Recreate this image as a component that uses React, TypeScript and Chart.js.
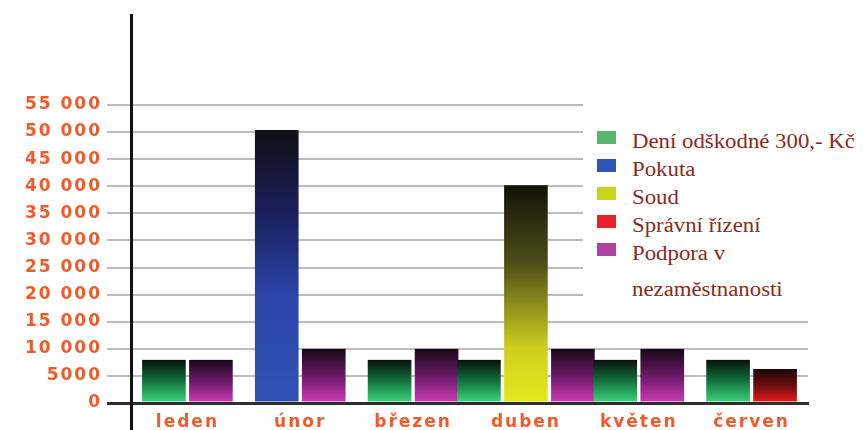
import React, { useEffect, useRef } from 'react';
import { Chart, registerables } from 'chart.js';

Chart.register(...registerables);

// ---- data ----
const months = ['leden', 'únor', 'březen', 'duben', 'květen', 'červen'];
const seriesNames = [
  'Dení odškodné 300,- Kč',
  'Pokuta',
  'Soud',
  'Správní řízení',
  'Podpora v nezaměstnanosti',
];
const denniOdskodne = [8000, null, 8000, 8000, 8000, 8000];
const pokuta = [null, 50400, null, null, null, null];
const soud = [null, null, null, 40200, null, null];
const spravniRizeni = [null, null, null, null, null, 6300];
const podpora = [8000, 10000, 10000, 10000, 10000, null];
const yTickValues = [0, 5000, 10000, 15000, 20000, 25000, 30000, 35000, 40000, 45000, 50000, 55000];
const yTickLabels = ['0', '5000', '10 000', '15 000', '20 000', '25 000', '30 000', '35 000', '40 000', '45 000', '50 000', '55 000'];

// ---- styles ----
const swatchColors = ['#55b56b', '#2f54b8', '#c9d51a', '#e4242a', '#b0419f'];
const gradientStops: [number, string][][] = [
  [[0, '#0b0f0c'], [0.45, '#0f6a38'], [1, '#3fd77e']],
  [[0, '#0e0e14'], [0.3, '#1a1f5c'], [0.6, '#2a44a6'], [1, '#3252b5']],
  [[0, '#121208'], [0.35, '#4c4c18'], [0.75, '#cfd020'], [1, '#e6e81c']],
  [[0, '#1a0606'], [0.5, '#6e0f10'], [1, '#f01b1b']],
  [[0, '#160816'], [0.5, '#6a1a68'], [1, '#d03cb8']],
];
const orange = '#ef5b2b';
const tickFont = { family: "'DejaVu Sans', sans-serif", size: 17, weight: 'bold' as const };

const makeGradient = (stops: [number, string][]) => (ctx: any) => {
  const chart = ctx.chart;
  const y = chart.scales && chart.scales.y;
  if (!y || ctx.raw == null) return stops[stops.length - 1][1];
  const top = y.getPixelForValue(ctx.raw as number);
  const bottom = y.getPixelForValue(0);
  if (!isFinite(top) || !isFinite(bottom) || top === bottom) return stops[stops.length - 1][1];
  const g = chart.ctx.createLinearGradient(0, top, 0, bottom);
  stops.forEach(([o, c]) => g.addColorStop(o, c));
  return g;
};

const letterSpacingPlugin = {
  id: 'letterSpacing',
  beforeDraw(chart: any) {
    (chart.ctx as any).letterSpacing = '2px';
  },
  afterDraw(chart: any) {
    (chart.ctx as any).letterSpacing = '0px';
  },
};

export default function App() {
  const canvasRef = useRef<HTMLCanvasElement | null>(null);

  useEffect(() => {
    if (!canvasRef.current) return;
    const seriesData = [denniOdskodne, pokuta, soud, spravniRizeni, podpora];
    const chart = new Chart(canvasRef.current, {
      type: 'bar',
      data: {
        labels: months,
        datasets: seriesNames.map((name, i) => ({
          label: name,
          data: seriesData[i] as any,
          backgroundColor: makeGradient(gradientStops[i]) as any,
          borderColor: 'rgba(0,0,0,0)',
          borderWidth: { left: 2, right: 2, top: 0, bottom: 0 } as any,
          borderSkipped: false as any,
          barThickness: 47,
          skipNull: true,
        })),
      },
      options: {
        responsive: false,
        animation: false,
        layout: { padding: { top: 15, bottom: 2, left: 0, right: 55 } },
        plugins: {
          legend: { display: false },
          tooltip: { enabled: false },
        },
        scales: {
          x: {
            type: 'category',
            position: { y: 0 } as any,
            offset: true,
            grid: { display: false, drawTicks: false },
            border: { display: true, color: '#2e2e2e', width: 3 },
            ticks: { color: orange, font: tickFont, padding: 9, maxRotation: 0 },
          },
          y: {
            type: 'linear',
            min: -4600,
            max: 71600,
            afterBuildTicks: (scale: any) => {
              scale.ticks = yTickValues.map((v) => ({ value: v }));
            },
            afterFit: (scale: any) => {
              scale.width = 131;
              scale.paddingTop = 0;
              scale.paddingBottom = 0;
            },
            grid: {
              color: (c: any) => (c.tick && c.tick.value === 0 ? '#2e2e2e' : '#bdbdbd'),
              lineWidth: (c: any) => (c.tick && c.tick.value === 0 ? 3 : 2),
              drawTicks: true,
              tickLength: 24,
            },
            border: { display: true, color: '#111111', width: 3 },
            ticks: {
              color: orange,
              font: tickFont,
              padding: 5,
              callback: (value: any) => {
                const idx = yTickValues.indexOf(Number(value));
                return idx >= 0 ? yTickLabels[idx] : '';
              },
            },
          },
        },
      },
      plugins: [letterSpacingPlugin],
    });
    return () => chart.destroy();
  }, []);

  return (
    <div style={{ position: 'fixed', left: 0, top: 0, width: 863, height: 430, background: '#fff', overflow: 'hidden' }}>
      <canvas ref={canvasRef} width={863} height={430} style={{ position: 'absolute', left: 0, top: 0, width: 863, height: 430 }} />
      <div
        style={{
          position: 'absolute',
          left: 583,
          top: 96,
          width: 280,
          height: 216,
          background: '#fff',
          overflow: 'hidden',
          paddingTop: 27,
          boxSizing: 'border-box',
        }}
      >
        {seriesNames.map((name, i) => (
          <div key={name} style={{ display: 'flex', alignItems: 'flex-start', marginBottom: -8 }}>
            <div
              style={{
                width: 19,
                height: 13,
                marginLeft: 14,
                marginTop: 8,
                background: swatchColors[i],
                flex: '0 0 auto',
              }}
            />
            <div
              style={{
                marginLeft: 16,
                width: 200,
                fontFamily: "'Liberation Serif', 'DejaVu Serif', serif",
                fontSize: 20,
                lineHeight: '36px',
                color: '#8a2a1e',
                transform: 'scaleX(1.14)',
                transformOrigin: 'left center',
                whiteSpace: 'normal',
              }}
            >
              {name}
            </div>
          </div>
        ))}
      </div>
    </div>
  );
}
